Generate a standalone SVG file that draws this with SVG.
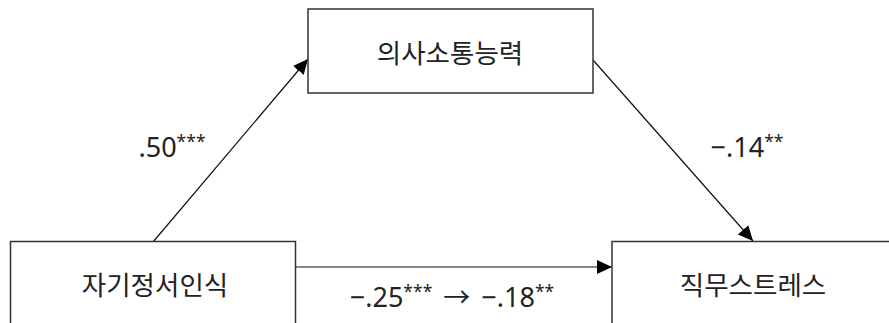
<svg xmlns="http://www.w3.org/2000/svg" width="889" height="323" viewBox="0 0 889 323">
  <style>
    .box { fill: #ffffff; stroke: #333333; stroke-width: 1.5; }
    .lbl { font-family: "Noto Sans CJK KR", "Noto Sans", sans-serif; font-size: 26.5px; fill: #222222; text-anchor: middle; dominant-baseline: central; }
    .coef { font-family: "Noto Sans", "Noto Sans CJK KR", sans-serif; font-size: 27px; fill: #222222; text-anchor: middle; }
    .sup { font-size: 17.5px; }
    .edge { stroke: #111111; stroke-width: 1.2; fill: none; }
  </style>
  <defs>
    <marker id="arrow" markerUnits="userSpaceOnUse" markerWidth="16" markerHeight="16" viewBox="0 0 16 16" refX="15" refY="8" orient="auto">
      <path d="M0,1 L15,8 L0,15 Z" fill="#000000"/>
    </marker>
  </defs>
  <rect width="889" height="323" fill="#ffffff"/>
  <g id="connectors">
    <line class="edge" x1="153" y1="242" x2="308" y2="59" marker-end="url(#arrow)"/>
    <line class="edge" x1="593" y1="60" x2="753" y2="241" marker-end="url(#arrow)"/>
    <line class="edge" x1="296" y1="267" x2="612" y2="267" marker-end="url(#arrow)"/>
  </g>
  <g id="node-communication">
    <rect class="box" x="308" y="9" width="285" height="84"/>
    <text class="lbl" x="450" y="51">의사소통능력</text>
  </g>
  <g id="node-self-awareness">
    <rect class="box" x="10.5" y="241.5" width="285" height="90"/>
    <text class="lbl" x="155" y="283">자기정서인식</text>
  </g>
  <g id="node-job-stress">
    <rect class="box" x="612" y="241.5" width="285" height="90"/>
    <text class="lbl" x="753" y="283">직무스트레스</text>
  </g>
  <g id="labels">
    <text class="coef" x="172" y="157">.50<tspan class="sup" dy="-9">***</tspan></text>
    <text class="coef" x="747" y="157">−.14<tspan class="sup" dy="-9">**</tspan></text>
    <text class="coef" x="452" y="307" word-spacing="4">−.25<tspan class="sup" dy="-9">***</tspan><tspan dy="9"> → −.18</tspan><tspan class="sup" dy="-9">**</tspan></text>
  </g>
</svg>
